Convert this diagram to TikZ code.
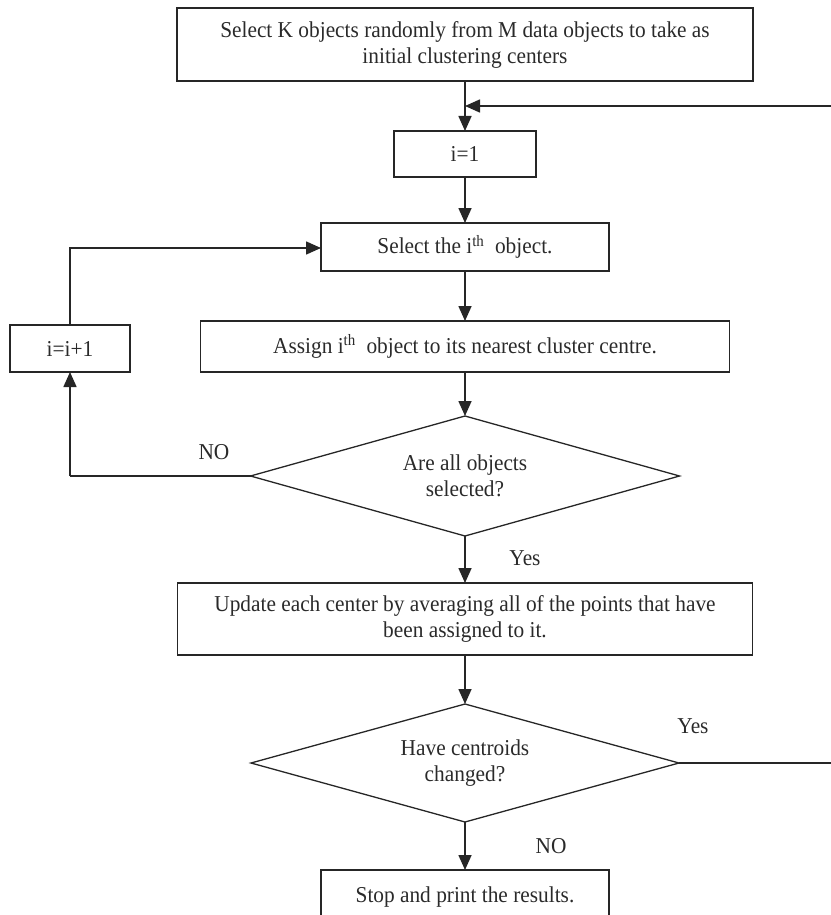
\documentclass[tikz,border=0pt]{standalone}
\usepackage{fontspec}
\setmainfont{Liberation Serif}[FakeStretch=0.94]
\usetikzlibrary{arrows.meta,shapes.geometric}

\definecolor{ink}{HTML}{262626}
\definecolor{txt}{HTML}{2A2A2A}

\begin{document}
\begin{tikzpicture}[x=1pt,y=-1pt,
  every node/.style={font=\fontsize{22.7}{26}\selectfont, text=txt, inner sep=0pt, outer sep=0pt},
  procbox/.style={draw=ink, line width=1.5pt, rectangle, align=center},
  decision/.style={draw=ink, line width=1.3pt, diamond, shape aspect=3.6, align=center},
  flow/.style={draw=ink, line width=1.6pt, -{Triangle[length=15pt,width=13pt]}},
  link/.style={draw=ink, line width=1.6pt},
  lbl/.style={font=\fontsize{22.7}{26}\selectfont}]

\useasboundingbox (0,0) rectangle (830,915);

% process steps
\node[procbox, minimum width=576pt, minimum height=73pt] (init) at (465,44.5)
  {Select K objects randomly from M data objects to take as\\initial clustering centers};
\node[procbox, minimum width=142pt, minimum height=46pt] (reset) at (465,154) {i=1};
\node[procbox, minimum width=288pt, minimum height=48pt] (pick) at (465,247)
  {Select the i\textsuperscript{th}\ \ object.};
\node[procbox, minimum width=529pt, minimum height=51pt] (assign) at (465,346.5)
  {Assign i\textsuperscript{th}\ \ object to its nearest cluster centre.};
\node[procbox, minimum width=120pt, minimum height=47pt] (incr) at (70,348.5) {i=i+1};
\node[decision, minimum width=429pt, minimum height=120pt] (alldone) at (465,476)
  {Are all objects\\selected?};
\node[procbox, minimum width=575pt, minimum height=72pt] (update) at (465,619)
  {Update each center by averaging all of the points that have\\been assigned to it.};
\node[decision, minimum width=428pt, minimum height=118pt] (changed) at (465,763)
  {Have centroids\\changed?};
\node[procbox, minimum width=288pt, minimum height=54pt] (stop) at (465,897)
  {Stop and print the results.};

% helper points for the loops
\coordinate (join) at (465,106);
\coordinate (far) at (850,763);
\coordinate (farup) at (850,106);
\coordinate (leftdn) at (70,476);
\coordinate (leftup) at (70,248);

% main flow
\draw[flow] (init.south) -- (reset.north);
\draw[flow] (reset.south) -- (pick.north);
\draw[flow] (pick.south) -- (assign.north);
\draw[flow] (assign.south) -- (alldone.north);
\draw[flow] (alldone.south) -- (update.north);
\draw[flow] (update.south) -- (changed.north);
\draw[flow] (changed.south) -- (stop.north);

% inner loop: next object
\draw[link] (alldone.west) -- (leftdn);
\draw[flow] (leftdn) -- (incr.south);
\draw[flow] (incr.north) -- (leftup) -- (pick.west |- leftup);

% outer loop: centroids moved
\draw[flow] (changed.east) -- (far) -- (farup) -- (join);

% branch labels
\node[lbl] (noA) at (214,452) {NO};
\node[lbl] (yesA) at (525,558) {Yes};
\node[lbl] (yesB) at (693,726) {Yes};
\node[lbl] (noB) at (551,846) {NO};

\end{tikzpicture}
\end{document}
